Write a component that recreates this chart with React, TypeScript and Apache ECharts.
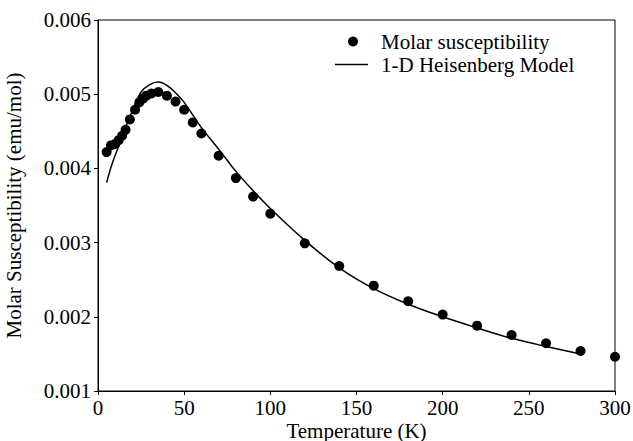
import React, { useEffect, useRef } from "react";
import * as echarts from "echarts";

const measuredT = [5, 7.5, 10, 12, 14, 16, 18.5, 21.5, 24, 26, 28, 31, 35, 40, 45, 50, 55, 60, 70, 80, 90, 100, 120, 140, 160, 180, 200, 220, 240, 260, 280, 300];
const measuredChi = [0.00422, 0.00431, 0.00433, 0.00438, 0.00444, 0.00452, 0.00466, 0.00479, 0.00489, 0.00494, 0.00498, 0.00501, 0.00503, 0.00498, 0.0049, 0.00479, 0.00462, 0.00447, 0.00417, 0.00387, 0.00362, 0.00339, 0.00299, 0.002685, 0.00242, 0.00221, 0.00203, 0.00188, 0.001755, 0.001643, 0.001539, 0.001462];

const modelT = [5, 8, 12, 16, 20, 25, 30, 35, 40, 45, 50, 60, 70, 80, 90, 100, 120, 140, 160, 180, 200, 220, 240, 260, 280];
const modelChi = [0.00381, 0.00405, 0.0043, 0.00455, 0.00478, 0.00503, 0.00513, 0.005165, 0.00512, 0.00502, 0.00489, 0.00455, 0.00426, 0.00396, 0.0037, 0.00346, 0.00303, 0.00266, 0.00238, 0.00217, 0.002, 0.00185, 0.00171, 0.0016, 0.0015];

const seriesNames = ["Molar susceptibility", "1-D Heisenberg Model"];
const FONT = "Times New Roman";
const FS = 21;

export default function App() {
  const ref = useRef<HTMLDivElement>(null);
  useEffect(() => {
    if (!ref.current) return;
    const chart = echarts.init(ref.current, null, { renderer: "svg" });
    const labelStyle = { fontFamily: FONT, fontSize: FS, color: "#000" };
    chart.setOption({
      animation: false,
      backgroundColor: "#fff",
      textStyle: { fontFamily: FONT, fontSize: FS, color: "#000" },
      grid: {
        left: 98, right: 18, top: 20, bottom: 50,
        outerBoundsMode: "none",
        containLabel: false,
        show: true, borderColor: "#000", borderWidth: 1, backgroundColor: "transparent",
      },
      legend: [
        {
          left: 348,
          top: 31,
          padding: 0,
          itemWidth: 10,
          itemHeight: 10,
          itemGap: 0,
          textStyle: { ...labelStyle, padding: [0, 0, 0, 18] },
          data: [{ name: seriesNames[0], icon: "circle" }],
        },
        {
          left: 335,
          top: 54,
          padding: 0,
          itemWidth: 33,
          itemHeight: 1.5,
          textStyle: { ...labelStyle, padding: [0, 0, 0, 8] },
          data: [{ name: seriesNames[1], icon: "rect" }],
        },
      ],
      xAxis: {
        type: "value",
        min: 0,
        max: 300,
        interval: 50,
        name: "Temperature (K)",
        nameLocation: "middle",
        nameGap: 29,
        nameMoveOverlap: false,
        nameTextStyle: labelStyle,
        axisLine: { lineStyle: { color: "#000", width: 1 } },
        axisTick: { show: true, length: 4, lineStyle: { color: "#000" } },
        axisLabel: { ...labelStyle, margin: 6 },
        splitLine: { show: false },
      },
      yAxis: {
        type: "value",
        min: 0.001,
        max: 0.006,
        interval: 0.001,
        name: "Molar Susceptibility (emu/mol)",
        nameLocation: "middle",
        nameGap: 74,
        nameMoveOverlap: false,
        nameTextStyle: labelStyle,
        axisLine: { lineStyle: { color: "#000", width: 1 } },
        axisTick: { show: true, length: 4, lineStyle: { color: "#000" } },
        axisLabel: { ...labelStyle, margin: 7, formatter: (v: number) => v.toFixed(3) },
        splitLine: { show: false },
      },
      series: [
        {
          name: seriesNames[0],
          type: "scatter",
          symbol: "circle",
          symbolSize: 10,
          itemStyle: { color: "#000", opacity: 1 },
          data: measuredT.map((t, i) => [t, measuredChi[i]]),
          z: 3,
        },
        {
          name: seriesNames[1],
          type: "line",
          symbol: "none",
          smooth: 0.3,
          lineStyle: { color: "#000", width: 1.5 },
          itemStyle: { color: "#000" },
          data: modelT.map((t, i) => [t, modelChi[i]]),
          z: 2,
        },
      ],
    });
    return () => chart.dispose();
  }, []);
  return <div ref={ref} style={{ width: 633, height: 441, position: "absolute", left: 0, top: 0 }} />;
}
